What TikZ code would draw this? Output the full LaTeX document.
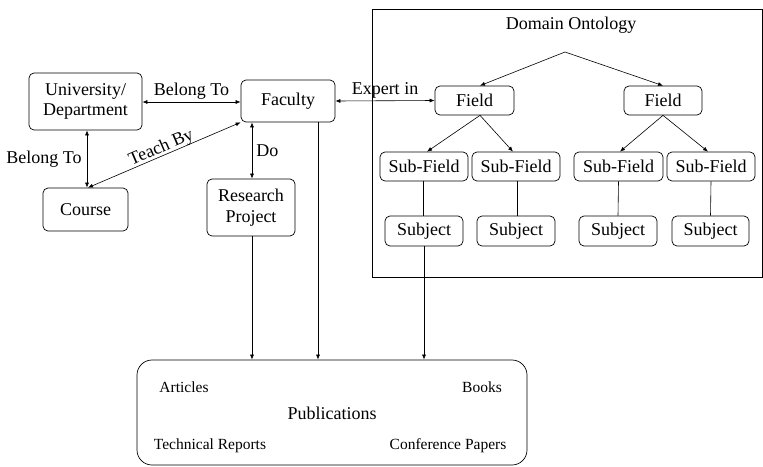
\documentclass[tikz,border=0pt]{standalone}
\usepackage{fontspec}
\setmainfont{Liberation Serif}
\usetikzlibrary{arrows.meta}
\begin{document}
\begin{tikzpicture}[x=1pt,y=-1pt,
  box/.style={draw, line width=0.7pt, rounded corners=5pt, align=center,
    inner sep=0pt, font=\fontsize{18}{20.5}\selectfont},
  lbl/.style={font=\fontsize{18}{20.5}\selectfont, inner sep=1pt},
  small/.style={font=\fontsize{15.5}{18}\selectfont, inner sep=0pt},
  link/.style={line width=0.6pt},
  arr/.style={link, -{Latex[length=5pt,width=4pt]}},
  both/.style={link, {Latex[length=5pt,width=4pt]}-{Latex[length=5pt,width=4pt]}}]
\useasboundingbox (0,0) rectangle (763,466);

% ontology frame
\draw[line width=0.6pt] (372,9) rectangle (762,277);
\node[lbl] (dom) at (571,25) {Domain Ontology};
\coordinate (apex) at (565,52);

% left-hand entities
\node[box, minimum width=113pt, minimum height=57pt] (uni) at (85.5,101.5) {University/\\Department};
\node[box, minimum width=94pt, minimum height=42pt] (fac) at (288,101) {Faculty};
\node[box, minimum width=85pt, minimum height=43pt] (course) at (85.5,209.5) {Course};
\node[box, minimum width=88pt, minimum height=57pt] (rp) at (251,207.5) {Research\\Project};

% ontology tree
\node[box, minimum width=79pt, minimum height=29pt] (f1) at (474.5,100.5) {Field};
\node[box, minimum width=78pt, minimum height=29pt] (f2) at (663,100.5) {Field};
\node[box, minimum width=88pt, minimum height=29pt] (sf1) at (424,166.5) {Sub-Field};
\node[box, minimum width=88pt, minimum height=29pt] (sf2) at (516,166.5) {Sub-Field};
\node[box, minimum width=89pt, minimum height=29pt] (sf3) at (618.5,166.5) {Sub-Field};
\node[box, minimum width=88pt, minimum height=29pt] (sf4) at (711,166.5) {Sub-Field};
\node[box, minimum width=78pt, minimum height=30pt] (s1) at (424,231) {Subject};
\node[box, minimum width=78pt, minimum height=30pt] (s2) at (516,231) {Subject};
\node[box, minimum width=78pt, minimum height=30pt] (s3) at (618,231) {Subject};
\node[box, minimum width=77pt, minimum height=30pt] (s4) at (710.5,231) {Subject};

% publications
\node[draw, line width=0.7pt, rounded corners=15pt, minimum width=390pt, minimum height=105pt] (pub) at (332,412.5) {};
\node[lbl] (pubt) at (332,413) {Publications};
\node[small] (art) at (184,387) {Articles};
\node[small] (books) at (482,387) {Books};
\node[small] (tech) at (210,446) {Technical Reports};
\node[small] (conf) at (448,446) {Conference Papers};

% relations
\draw[both] (uni.east |- 0,102) -- node[lbl, above=1pt] {Belong To} (fac.west |- 0,102);
\draw[both] (uni.south -| 87,0) -- node[lbl, left=4pt] {Belong To} (course.north -| 87,0);
\draw[both] (course.north -| 88,0) -- node[lbl, sloped, above=-1pt, pos=0.5, inner sep=0pt] {Teach By} (fac.south west);
\draw[both] (fac.south -| 252,0) -- node[lbl, right=3pt] {Do} (rp.north -| 252,0);
\draw[both] (fac.east) -- node[lbl, above=1pt] {Expert in} (f1.west);

% ontology hierarchy
\draw[arr] (apex) -- (f1.north -| 480,0);
\draw[arr] (apex) -- (f2.north);
\draw[arr] (f1.south -| 480,0) -- (sf1.north -| 427,0);
\draw[arr] (f1.south -| 480,0) -- (sf2.north -| 513,0);
\draw[arr] (f2.south) -- (sf3.north -| 620,0);
\draw[arr] (f2.south) -- (sf4.north -| 708,0);
\draw[link] (sf1.south -| 423,0) -- (s1.north -| 423,0);
\draw[link] (sf2.south -| 517,0) -- (s2.north -| 517,0);
\draw[link] (sf3.south) -- (s3.north);
\draw[link] (sf4.south) -- (s4.north);

% paths into publications
\draw[arr] (rp.south -| 252,0) -- (pub.north -| 252,0);
\draw[arr] (fac.south -| 318,0) -- (pub.north -| 318,0);
\draw[arr] (s1.south) -- (pub.north -| s1.south);
\end{tikzpicture}
\end{document}
